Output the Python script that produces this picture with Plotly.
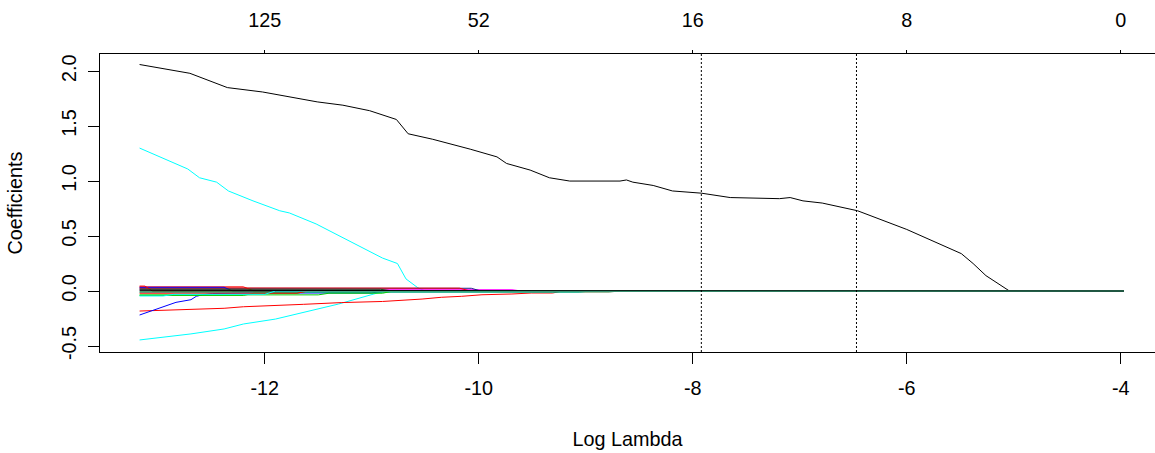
import plotly.graph_objects as go

# ---- data ----
log_lambda_ticks = [-12, -10, -8, -6, -4]
bottom_tick_text = ["-12", "-10", "-8", "-6", "-4"]
top_tick_text = ["125", "52", "16", "8", "0"]  # number of non-zero coefficients
y_ticks = [-0.5, 0.0, 0.5, 1.0, 1.5, 2.0]
y_tick_text = ["-0.5", "0.0", "0.5", "1.0", "1.5", "2.0"]
cv_lines = [-7.92, -6.47]  # lambda.min, lambda.1se

# larger coefficient paths
black_x = [-13.17, -12.70, -12.35, -12.02, -11.51, -11.27, -11.02, -10.77, -10.66, -10.43,
           -10.08, -9.83, -9.74, -9.52, -9.34, -9.15, -8.68, -8.62, -8.56, -8.37,
           -8.19, -8.03, -7.92, -7.65, -7.19, -7.09, -6.97, -6.79, -6.53, -6.46,
           -6.00, -5.79, -5.49, -5.38, -5.26, -5.04, -3.97]
black_y = [2.06, 1.98, 1.85, 1.81, 1.72, 1.69, 1.64, 1.56, 1.43, 1.38,
           1.29, 1.22, 1.16, 1.10, 1.03, 1.00, 1.00, 1.01, 0.99, 0.96,
           0.91, 0.90, 0.89, 0.85, 0.84, 0.85, 0.82, 0.80, 0.74, 0.73,
           0.56, 0.47, 0.34, 0.25, 0.14, 0.0, 0.0]

cyan_pos_x = [-13.17, -12.72, -12.61, -12.45, -12.34, -12.11, -11.86, -11.77, -11.52, -11.36,
              -11.11, -10.90, -10.76, -10.68, -10.57, -10.50, -3.97]
cyan_pos_y = [1.30, 1.11, 1.03, 0.99, 0.91, 0.82, 0.73, 0.71, 0.61, 0.53,
              0.40, 0.30, 0.25, 0.11, 0.03, 0.0, 0.0]

cyan_neg_x = [-13.17, -12.95, -12.69, -12.38, -12.20, -11.90, -11.64, -11.31, -10.98, -10.88, -3.97]
cyan_neg_y = [-0.445, -0.420, -0.390, -0.345, -0.300, -0.255, -0.194, -0.118, -0.027, 0.0, 0.0]

red_neg_x = [-13.17, -12.85, -12.38, -12.20, -11.92, -11.64, -11.28, -10.90, -10.53, -10.35,
             -10.16, -9.97, -9.69, -9.51, -9.31, -9.22, -3.97]
red_neg_y = [-0.182, -0.170, -0.157, -0.143, -0.134, -0.121, -0.105, -0.095, -0.073, -0.057,
             -0.048, -0.034, -0.027, -0.018, -0.018, 0.0, 0.0]

blue_neg_x = [-13.17, -13.01, -12.83, -12.69, -12.64, -12.58, -12.49, -12.14, -11.00, -10.90, -3.97]
blue_neg_y = [-0.218, -0.164, -0.103, -0.079, -0.048, -0.034, -0.023, -0.018, -0.018, 0.0, 0.0]

# small coefficient paths near zero
magenta_x = [-13.17, -9.69, -9.60, -3.97]
magenta_y = [0.012, 0.012, 0.0, 0.0]

navy_x = [-13.17, -10.07, -9.98, -3.97]
navy_y = [0.025, 0.025, 0.0, 0.0]

red_s1_x = [-13.17, -10.90, -10.18, -10.08, -3.97]
red_s1_y = [0.028, 0.028, 0.026, 0.0, 0.0]

red_s2_x = [-13.17, -12.20, -12.10, -3.97]
red_s2_y = [0.038, 0.038, 0.0, 0.0]

blue_s_x = [-13.17, -12.38, -12.30, -3.97]
blue_s_y = [0.034, 0.034, 0.0, 0.0]

red_s3_x = [-13.17, -13.12, -13.05, -3.97]
red_s3_y = [0.045, 0.045, 0.0, 0.0]

dkgreen_s_x = [-13.17, -10.92, -10.80, -3.97]
dkgreen_s_y = [0.016, 0.016, 0.0, 0.0]

cyan_s1_x = [-13.17, -9.06, -8.96, -3.97]
cyan_s1_y = [-0.010, -0.010, 0.0, 0.0]

dkgreen_s2_x = [-13.17, -8.78, -8.68, -3.97]
dkgreen_s2_y = [-0.008, -0.008, 0.0, 0.0]

green_s1_x = [-13.17, -11.50, -11.40, -10.90, -10.80, -3.97]
green_s1_y = [-0.035, -0.035, -0.020, -0.020, 0.0, 0.0]

green_s2_x = [-13.17, -12.20, -12.10, -11.70, -11.60, -3.97]
green_s2_y = [-0.040, -0.040, -0.020, -0.020, 0.0, 0.0]

red_s4_x = [-13.17, -11.70, -11.60, -3.97]
red_s4_y = [-0.020, -0.020, 0.0, 0.0]

cyan_s2_x = [-13.17, -12.95, -12.85, -12.00, -11.90, -3.97]
cyan_s2_y = [-0.045, -0.045, -0.030, -0.030, 0.0, 0.0]

black_s_x = [-13.17, -10.90, -10.80, -3.97]
black_s_y = [0.006, 0.006, 0.0, 0.0]

BLACK, RED, GREEN, BLUE, CYAN, MAGENTA = "#000000", "#FF0000", "#00CD00", "#0000FF", "#00FFFF", "#FF00FF"
DKGREEN, NAVY = "#0B5A0B", "#1A1A8C"

series = [
    (black_x, black_y, BLACK),
    (cyan_pos_x, cyan_pos_y, CYAN),
    (cyan_neg_x, cyan_neg_y, CYAN),
    (red_neg_x, red_neg_y, RED),
    (blue_neg_x, blue_neg_y, BLUE),
    (magenta_x, magenta_y, MAGENTA),
    (navy_x, navy_y, NAVY),
    (red_s1_x, red_s1_y, RED),
    (red_s2_x, red_s2_y, RED),
    (blue_s_x, blue_s_y, BLUE),
    (red_s3_x, red_s3_y, RED),
    (dkgreen_s_x, dkgreen_s_y, DKGREEN),
    (cyan_s1_x, cyan_s1_y, CYAN),
    (dkgreen_s2_x, dkgreen_s2_y, DKGREEN),
    (green_s1_x, green_s1_y, GREEN),
    (green_s2_x, green_s2_y, GREEN),
    (red_s4_x, red_s4_y, RED),
    (cyan_s2_x, cyan_s2_y, CYAN),
    (black_s_x, black_s_y, BLACK),
]

FONT = "Liberation Sans, Arial, sans-serif"
FS = 19.8

fig = go.Figure()
for xs, ys, col in series:
    fig.add_trace(go.Scatter(x=xs, y=ys, mode="lines", line=dict(color=col, width=1),
                             showlegend=False, hoverinfo="skip"))

# invisible trace to anchor the top axis
fig.add_trace(go.Scatter(x=[log_lambda_ticks[0]], y=[0], xaxis="x2", mode="markers",
                         marker=dict(opacity=0), showlegend=False, hoverinfo="skip"))

for v in cv_lines:
    fig.add_vline(x=v, line=dict(color="black", width=1, dash="2px,2px"))

xr = [-13.54, -3.68]
fig.update_layout(
    width=1155, height=453,
    margin=dict(l=100, r=0, t=54, b=101),
    paper_bgcolor="white", plot_bgcolor="white",
    font=dict(family=FONT, size=FS, color="black"),
    xaxis=dict(range=xr, tickvals=log_lambda_ticks, ticktext=bottom_tick_text,
               showline=True, linecolor="black", linewidth=1, ticks="outside", ticklen=11,
               tickcolor="black", showgrid=False, zeroline=False, ticklabelstandoff=7,
               title=dict(text="Log Lambda", standoff=34, font=dict(size=FS))),
    xaxis2=dict(range=xr, overlaying="x", side="top", tickvals=log_lambda_ticks,
                ticktext=top_tick_text, showline=True, linecolor="black", linewidth=1,
                ticks="outside", ticklen=3, tickcolor="black", showgrid=False, zeroline=False,
                ticklabelstandoff=15),
    yaxis=dict(range=[-0.5545, 2.1555], tickvals=y_ticks, ticktext=y_tick_text, tickangle=-90,
               showline=True, linecolor="black", linewidth=1, ticks="outside", ticklen=11,
               tickcolor="black", showgrid=False, zeroline=False, ticklabelstandoff=4,
               title=dict(text="Coefficients", standoff=30, font=dict(size=FS))),
)

fig.write_html("out.html")
